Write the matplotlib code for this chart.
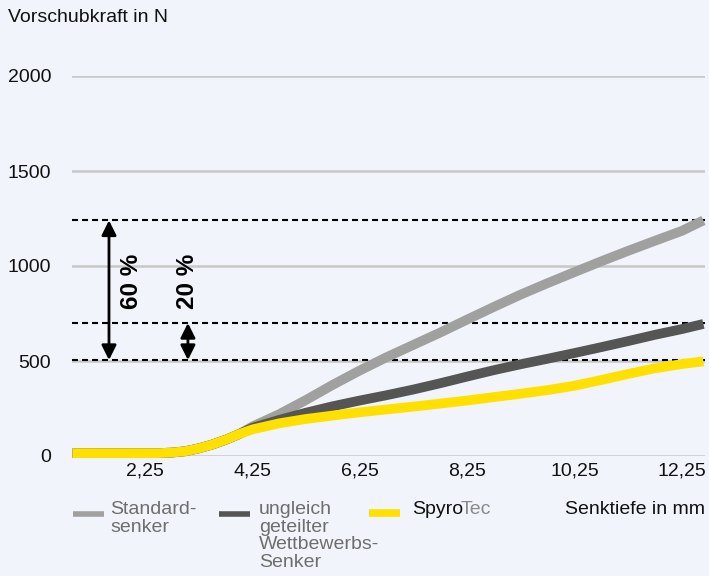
import matplotlib.pyplot as plt
from matplotlib.lines import Line2D

plt.rcParams['font.family'] = ['Liberation Sans', 'DejaVu Sans']

# Werte (Senktiefe in mm, Vorschubkraft in N)
weg_start = [0.9, 1.5, 2.0, 2.5, 2.75, 3.0, 3.25, 3.5, 3.75, 4.0]
kraft_start = [15, 15, 15, 15, 18, 25, 40, 60, 85, 115]

weg = [4.25, 4.75, 5.25, 5.75, 6.25, 6.75, 7.25, 7.75, 8.25, 8.75,
       9.25, 9.75, 10.25, 10.75, 11.25, 11.75, 12.25, 12.65]
standard = [155, 220, 295, 375, 450, 520, 585, 650, 718, 785,
            850, 910, 968, 1025, 1080, 1133, 1185, 1240]
wettbewerb = [148, 190, 228, 262, 292, 320, 350, 383, 418, 452,
              483, 512, 542, 573, 605, 638, 668, 695]
spyrotec = [140, 172, 195, 213, 230, 245, 260, 276, 292, 310,
            328, 347, 370, 400, 432, 462, 484, 498]

x_ticks = [2.25, 4.25, 6.25, 8.25, 10.25, 12.25]
x_labels = ['2,25', '4,25', '6,25', '8,25', '10,25', '12,25']
y_ticks = [0, 500, 1000, 1500, 2000]
dash_levels = [1240, 700, 505]

W, H = 709, 576
bg = '#f1f4fa'
fig = plt.figure(figsize=(W / 100, H / 100), dpi=100, facecolor=bg)
ax = fig.add_axes([72 / W, 1 - 456 / H, (705 - 72) / W, 380 / H])
ax.set_facecolor(bg)
ax.set_xlim(0.891, 12.68)
ax.set_ylim(0, 2000)
for s in ax.spines.values():
    s.set_visible(False)

for y in y_ticks:
    ax.axhline(y, color='#c8c8c8', lw=1.8, zorder=1)
for y in dash_levels:
    ax.axhline(y, color='black', lw=1.5, ls=(0, (2.9, 1.9)), zorder=2)

farben = {'standard': '#a0a09e', 'wettbewerb': '#555553', 'spyrotec': '#ffe000'}
for name, werte, z in [('standard', standard, 3), ('wettbewerb', wettbewerb, 4),
                       ('spyrotec', spyrotec, 5)]:
    ax.plot(weg_start + weg, kraft_start + werte, color=farben[name], lw=7,
            solid_capstyle='butt', solid_joinstyle='round', zorder=z, clip_on=False)

# Pfeile mit Prozentangaben
ax.annotate('', xy=(1.58, 1240), xytext=(1.58, 505),
            arrowprops=dict(arrowstyle='<|-|>', color='black', lw=2,
                            mutation_scale=22, shrinkA=0, shrinkB=0), zorder=6)
ax.annotate('', xy=(3.05, 700), xytext=(3.05, 505),
            arrowprops=dict(arrowstyle='<|-|>', color='black', lw=2,
                            mutation_scale=22, shrinkA=0, shrinkB=0), zorder=6)
ax.text(2.0, 921, '60 %', rotation=90, fontsize=17.5, fontweight='bold',
        ha='center', va='center')
ax.text(3.05, 921, '20 %', rotation=90, fontsize=17.5, fontweight='bold',
        ha='center', va='center')

ax.set_xticks(x_ticks)
ax.set_xticklabels(x_labels, fontsize=14, color='#111111')
ax.set_yticks(y_ticks)
ax.set_yticklabels([str(v) for v in y_ticks], fontsize=14, color='#111111')
ax.tick_params(axis='y', length=0, pad=15)
ax.tick_params(axis='x', length=0, pad=5)

fig.text(8 / W, 1 - 18 / H, 'Vorschubkraft in N', fontsize=14, va='center',
         color='#111111')

# Legende
def px(x, y):
    return x / W, 1 - y / H

for (x0, x1, y, farbe, lw) in [(73, 104, 514, farben['standard'], 4),
                               (219, 250, 514, farben['wettbewerb'], 4),
                               (369, 400, 513, farben['spyrotec'], 5.5)]:
    (fx0, fy), (fx1, _) = px(x0, y), px(x1, y)
    fig.add_artist(Line2D([fx0, fx1], [fy, fy], color=farbe, lw=lw,
                          solid_capstyle='butt', transform=fig.transFigure))

grau = '#6e6e6e'
fig.text(*px(110, 501), 'Standard-\nsenker', fontsize=14, color=grau,
         va='top', linespacing=1.05)
fig.text(*px(259, 501), 'ungleich\ngeteilter\nWettbewerbs-\nSenker', fontsize=14,
         color=grau, va='top', linespacing=1.05)
spyro = fig.text(*px(412, 501), 'Spyro', fontsize=14, color='#111111', va='top')
fig.add_artist(plt.Annotation('Tec', xy=(1, 1), xycoords=spyro,
                              xytext=(-1.5, 0), textcoords='offset points',
                              fontsize=14, color='#8a8a8a', ha='left', va='top'))
fig.text(*px(705, 501), 'Senktiefe in mm', fontsize=14, color='#111111',
         va='top', ha='right')

fig.savefig('out.png', dpi=100, facecolor=bg)
